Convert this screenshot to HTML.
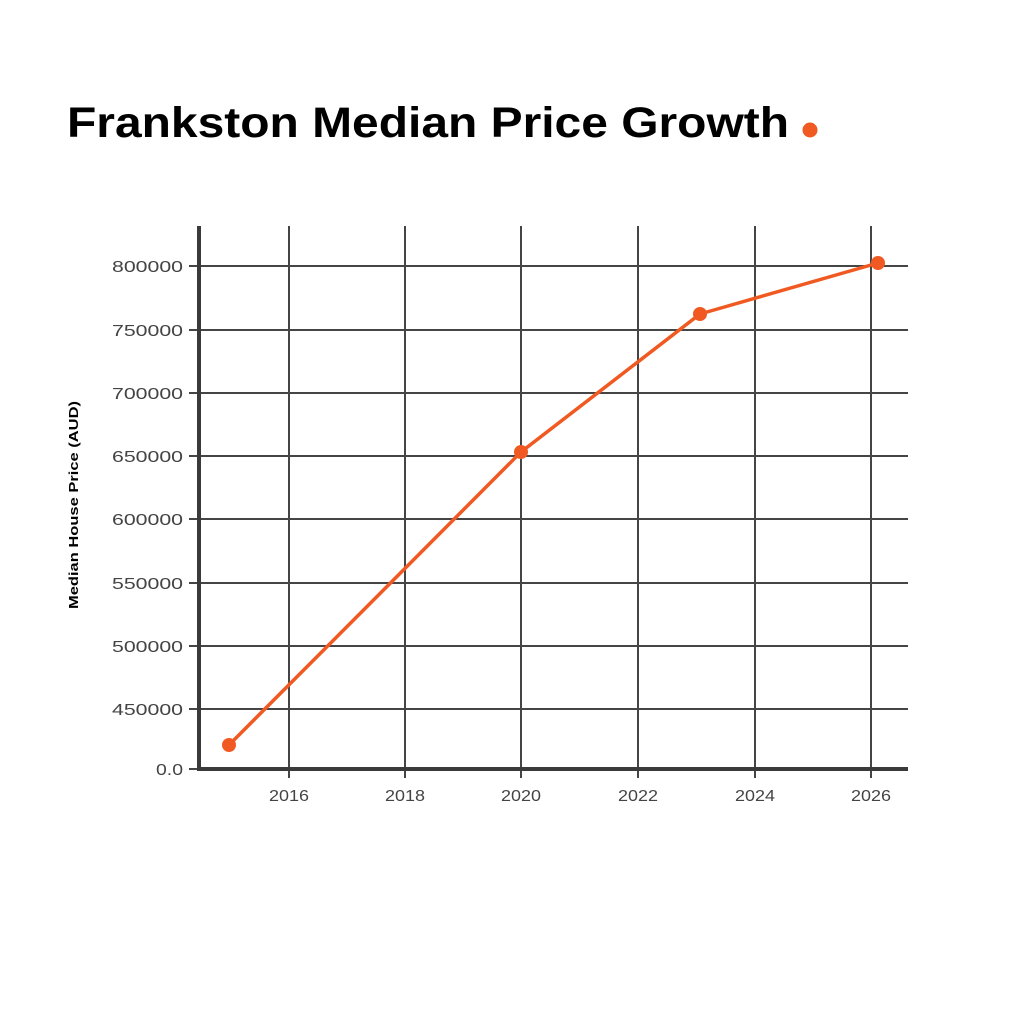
<!DOCTYPE html>
<html><head><meta charset="utf-8"><style>
html,body{margin:0;padding:0;background:#fff;}
svg{display:block;}
</style></head><body>
<svg width="1024" height="1024" viewBox="0 0 1024 1024" xmlns="http://www.w3.org/2000/svg">
<rect width="1024" height="1024" fill="#fff"/>
<text x="67" y="137" font-family="Liberation Sans, sans-serif" font-weight="bold" font-size="43" fill="#000" textLength="722" lengthAdjust="spacingAndGlyphs">Frankston Median Price Growth</text>
<circle cx="810" cy="130" r="7.5" fill="#f05a22"/>
<g stroke="#454545" stroke-width="2">
<line x1="189" y1="266" x2="908" y2="266"/>
<line x1="189" y1="330" x2="908" y2="330"/>
<line x1="189" y1="393" x2="908" y2="393"/>
<line x1="189" y1="456" x2="908" y2="456"/>
<line x1="189" y1="519" x2="908" y2="519"/>
<line x1="189" y1="583" x2="908" y2="583"/>
<line x1="189" y1="646" x2="908" y2="646"/>
<line x1="189" y1="709" x2="908" y2="709"/>
<line x1="189" y1="769" x2="199" y2="769"/>
<line x1="289" y1="226" x2="289" y2="778"/>
<line x1="405" y1="226" x2="405" y2="778"/>
<line x1="521" y1="226" x2="521" y2="778"/>
<line x1="638" y1="226" x2="638" y2="778"/>
<line x1="755" y1="226" x2="755" y2="778"/>
<line x1="871" y1="226" x2="871" y2="778"/>
</g>
<line x1="199" y1="226" x2="199" y2="771" stroke="#3a3a3a" stroke-width="4"/>
<line x1="197" y1="769" x2="908" y2="769" stroke="#3a3a3a" stroke-width="4"/>
<g font-family="Liberation Sans, sans-serif" font-size="16" fill="#444" text-anchor="end" lengthAdjust="spacingAndGlyphs">
<text x="183" y="272" textLength="71" lengthAdjust="spacingAndGlyphs">800000</text>
<text x="183" y="336" textLength="71" lengthAdjust="spacingAndGlyphs">750000</text>
<text x="183" y="399" textLength="71" lengthAdjust="spacingAndGlyphs">700000</text>
<text x="183" y="462" textLength="71" lengthAdjust="spacingAndGlyphs">650000</text>
<text x="183" y="525" textLength="71" lengthAdjust="spacingAndGlyphs">600000</text>
<text x="183" y="589" textLength="71" lengthAdjust="spacingAndGlyphs">550000</text>
<text x="183" y="652" textLength="71" lengthAdjust="spacingAndGlyphs">500000</text>
<text x="183" y="715" textLength="71" lengthAdjust="spacingAndGlyphs">450000</text>
<text x="183" y="775" textLength="27" lengthAdjust="spacingAndGlyphs">0.0</text>
</g>
<g font-family="Liberation Sans, sans-serif" font-size="16" fill="#444" text-anchor="middle">
<text x="289" y="801" textLength="40" lengthAdjust="spacingAndGlyphs">2016</text>
<text x="405" y="801" textLength="40" lengthAdjust="spacingAndGlyphs">2018</text>
<text x="521" y="801" textLength="40" lengthAdjust="spacingAndGlyphs">2020</text>
<text x="638" y="801" textLength="40" lengthAdjust="spacingAndGlyphs">2022</text>
<text x="755" y="801" textLength="40" lengthAdjust="spacingAndGlyphs">2024</text>
<text x="871" y="801" textLength="40" lengthAdjust="spacingAndGlyphs">2026</text>
</g>
<text transform="translate(78,505) rotate(-90)" font-family="Liberation Sans, sans-serif" font-weight="bold" font-size="13" fill="#000" text-anchor="middle" textLength="208" lengthAdjust="spacingAndGlyphs">Median House Price (AUD)</text>
<polyline points="229,745 521,452 700,314 878,263" fill="none" stroke="#f05a22" stroke-width="3.5" stroke-linejoin="round"/>
<g fill="#f05a22">
<circle cx="229" cy="745" r="7"/>
<circle cx="521" cy="452" r="7"/>
<circle cx="700" cy="314" r="7"/>
<circle cx="878" cy="263" r="7"/>
</g>
</svg>
</body></html>
